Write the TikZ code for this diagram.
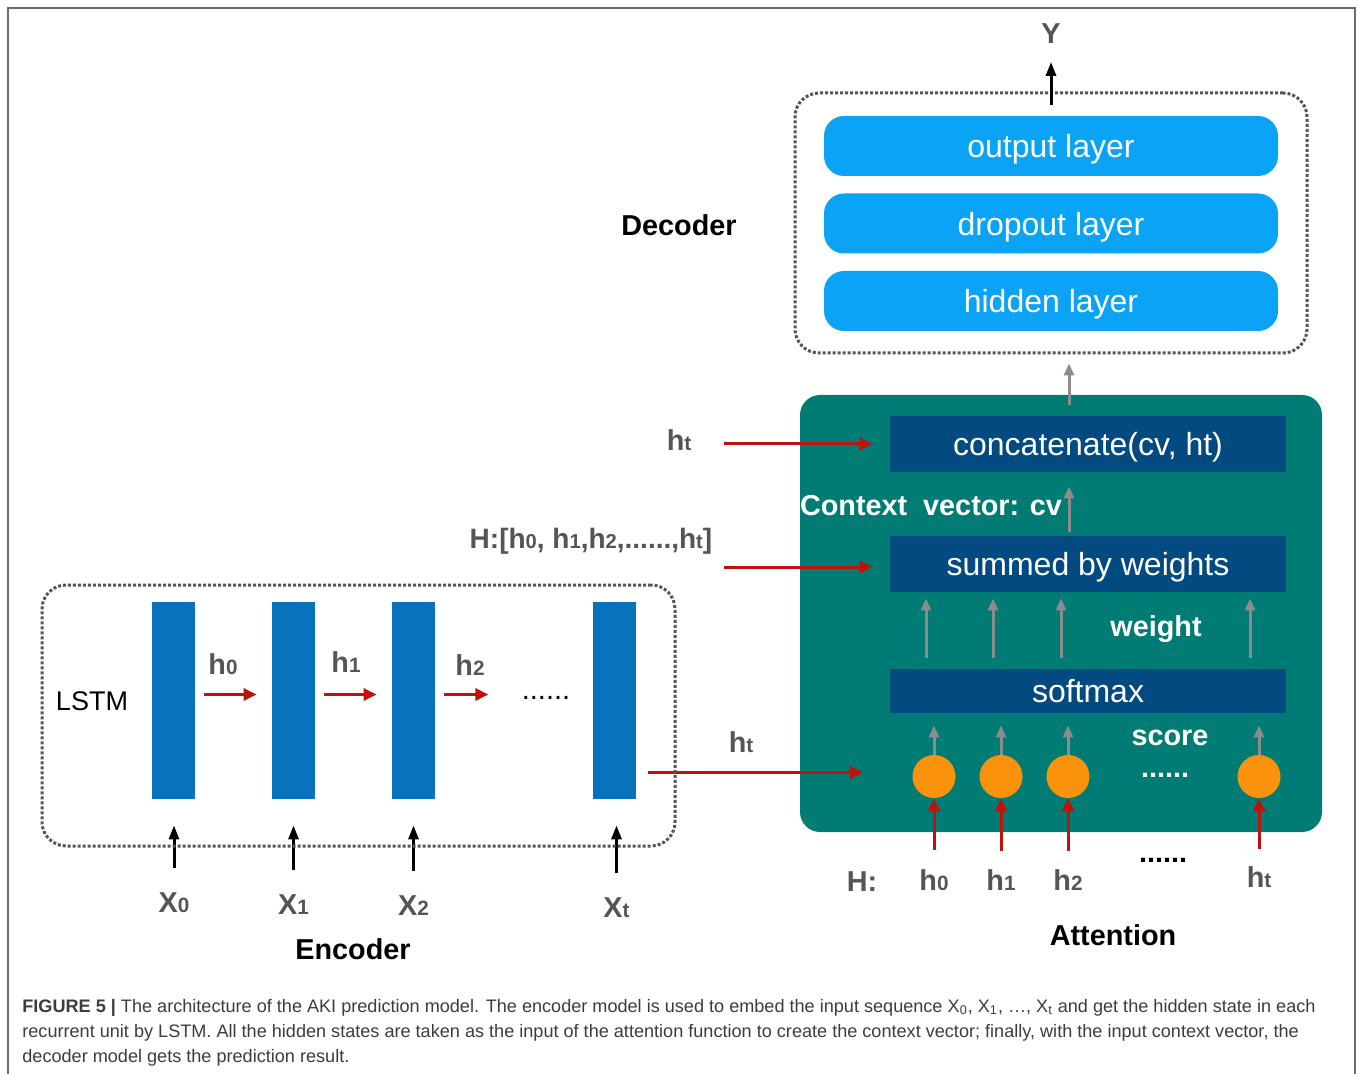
\documentclass[tikz,border=0pt]{standalone}
\usepackage{fontspec}
\setmainfont{Liberation Sans}
\usetikzlibrary{arrows.meta}

\definecolor{skyblue}{RGB}{10,163,245}
\definecolor{tealc}{RGB}{0,124,117}
\definecolor{navyc}{RGB}{3,74,128}
\definecolor{lstmblue}{RGB}{8,114,188}
\definecolor{orngc}{RGB}{250,146,12}
\definecolor{redc}{RGB}{190,18,10}
\definecolor{txtgray}{RGB}{85,85,85}
\definecolor{arrgray}{RGB}{140,140,140}
\definecolor{capgray}{RGB}{60,60,60}

\newcommand{\lo}[1]{\scalebox{0.72}{#1}}
\newcommand{\lblfont}{\bfseries\fontsize{14.4}{17}\selectfont}
\newcommand{\boxfont}{\fontsize{16}{19}\selectfont}

\begin{document}
\begin{tikzpicture}[x=0.5pt, y=-0.5pt,
  declayer/.style={fill=skyblue, rounded corners=10pt, minimum width=227pt, minimum height=30pt, text depth=0pt, text=white, font=\boxfont},
  darkbox/.style={fill=navyc, minimum width=198pt, text depth=0pt, text=white, font=\boxfont},
  lstmbar/.style={fill=lstmblue, minimum width=21.5pt, minimum height=98.5pt},
  scoredot/.style={fill=orngc, circle, minimum size=21.5pt, inner sep=0pt},
  dotbox/.style={draw=txtgray, line width=1.5pt, dash pattern=on 1.5pt off 1pt, rounded corners=12pt},
  glbl/.style={text=txtgray, font=\lblfont},
  blbl/.style={text=black, font=\lblfont},
  wlbl/.style={text=white, font=\lblfont},
  caption/.style={anchor=base west, text=capgray, font=\fontsize{9.05}{12}\selectfont, inner sep=0pt},
  rarr/.style={draw=redc, line width=1.5pt, -{Triangle[length=6.5pt,width=6pt]}},
  garr/.style={draw=arrgray, line width=1.5pt, -{Triangle[length=6pt,width=5pt]}},
  karr/.style={draw=black, line width=1.5pt, -{Triangle[length=7pt,width=5pt]}}]
\useasboundingbox (0,0) rectangle (1358,1074);
\draw[gray!85!black, line width=1pt] (8,1074) |- (1355,8) -- (1355,1074);

% Decoder
\node[dotbox, minimum width=256pt, minimum height=130pt] (dec) at (1051,223) {};
\node[declayer] (outl) at (1051,146) {output layer};
\node[declayer] (dropl) at (1051,223.5) {dropout layer};
\node[declayer] (hidl) at (1051,301) {hidden layer};
\node[glbl] (Y) at (1051,34) {Y};
\node[blbl] (declbl) at (679,225) {Decoder};
\draw[karr, shorten >=5.5pt] ([yshift=-7pt]dec.north) -- (Y);

% Attention
\node[fill=tealc, rounded corners=10pt, minimum width=261pt, minimum height=218.5pt] (att) at (1061,613.5) {};
\draw[garr] ([xshift=4pt,yshift=-5pt]att.north) -- ([xshift=9pt,yshift=-4.5pt]dec.south);
\node[darkbox, minimum height=28pt] (cat) at (1088,444) {concatenate(cv, ht)};
\node[darkbox, minimum height=28pt] (sum) at (1088,564) {summed by weights};
\node[darkbox, minimum height=22pt] (soft) at (1088,691) {softmax};
\node[wlbl] (cvlbl) at (931,506) {Context\ \ vector: cv};
\draw[garr, shorten <=2pt, shorten >=7pt] ([xshift=-9.5pt]sum.north) -- ([xshift=-9.5pt]cat.south);
\foreach \dx in {-81,-47.5,-13.5,81}
  \draw[garr, shorten <=5.5pt, shorten >=3pt] ([xshift=\dx pt]soft.north) -- ([xshift=\dx pt]sum.south);
\node[wlbl] (wlbl) at (1156,629) {weight};
\node[scoredot] (s0) at (934,776.5) {};
\node[scoredot] (s1) at (1001,776.5) {};
\node[scoredot] (s2) at (1068,776.5) {};
\node[scoredot] (st) at (1259,776.5) {};
\foreach \s in {s0,s1,s2,st}
  \draw[garr, shorten >=6pt] (\s.north) -- (\s.north |- soft.south);
\node[wlbl] (scorelbl) at (1170,738) {score};
\node[wlbl] (sdots) at (1165,775) {......};

\node[glbl] (Hlbl) at (862,882) {H:};
\node[glbl] (hh0) at (934,880) {h\lo{0}};
\node[glbl] (hh1) at (1001,880) {h\lo{1}};
\node[glbl] (hh2) at (1068,880) {h\lo{2}};
\node[blbl] (hdots) at (1163,860) {......};
\node[glbl] (hht) at (1259,877) {h\lo{t}};
\draw[rarr, shorten <=6pt] (hh0) -- (s0);
\draw[rarr, shorten <=6pt] (hh1) -- (s1);
\draw[rarr, shorten <=6pt] (hh2) -- (s2);
\draw[rarr, shorten <=5pt] (hht) -- (st);
\node[blbl] (attlbl) at (1113,935) {Attention};

% inputs of the attention
\node[glbl] (ht1) at (679,440) {h\lo{t}};
\draw[rarr, shorten >=8.5pt] ([xshift=-83pt]cat.west) -- (cat.west);
\node[glbl, font=\bfseries\fontsize{14}{17}\selectfont] (Hall) at (591,541) {H:[h\lo{0}, h\lo{1},h\lo{2},......,h\lo{t}]};
\draw[rarr, shorten >=8.5pt] ([xshift=-83pt,yshift=-1.5pt]sum.west) -- ([yshift=-1.5pt]sum.west);

% Encoder
\node[lstmbar] (b0) at (173.5,700.5) {};
\node[lstmbar] (b1) at (293.5,700.5) {};
\node[lstmbar] (b2) at (413.5,700.5) {};
\node[lstmbar] (bt) at (614.5,700.5) {};
\node[font=\fontsize{13.5}{16}\selectfont] (lstm) at (92,701) {LSTM};
\foreach \a/\b in {b0/b1,b1/b2}
  \draw[rarr, shorten <=4.5pt, shorten >=7.5pt] ([yshift=3pt]\a.east) -- ([yshift=3pt]\b.west);
\draw[rarr, shorten <=4.5pt] ([yshift=3pt]b2.east) -- ++(53,0);
\node[glbl] (eh0) at (223,664) {h\lo{0}};
\node[glbl] (eh1) at (346,662) {h\lo{1}};
\node[glbl] (eh2) at (470,665) {h\lo{2}};
\node[font=\fontsize{14.5}{16}\selectfont] (edots) at (546,698) {......};
\node[glbl] (x0) at (174,903) {X\lo{0}};
\node[glbl] (x1) at (293.5,905) {X\lo{1}};
\node[glbl] (x2) at (413.5,906) {X\lo{2}};
\node[glbl] (xt) at (616.5,908) {X\lo{t}};
\foreach \x/\b in {x0/b0,x1/b1,x2/b2,xt/bt}
  \draw[karr, shorten <=9pt, shorten >=13pt] (\x) -- (\x |- \b.south);
\coordinate (htsrc) at (648,772.5);
\draw[rarr] (htsrc) -- ([xshift=-24.5pt,yshift=2pt]s0.west);
\node[dotbox, minimum width=316.5pt, minimum height=130.5pt] (enc) at (358.5,715.5) {};
\node[glbl] (ht2) at (741,742) {h\lo{t}};
\node[blbl] (enclbl) at (353,949) {Encoder};

% Caption
\node[caption] (cap1) at (22,1012)
  {\textbf{FIGURE 5 |} The architecture of the AKI prediction model. The encoder model is used to embed the input sequence X\textsubscript{0}, X\textsubscript{1}, \dots, X\textsubscript{t} and get the hidden state in each};
\node[caption] (cap2) at (22,1037)
  {recurrent unit by LSTM. All the hidden states are taken as the input of the attention function to create the context vector; finally, with the input context vector, the};
\node[caption] (cap3) at (22,1062)
  {decoder model gets the prediction result.};
\end{tikzpicture}
\end{document}
